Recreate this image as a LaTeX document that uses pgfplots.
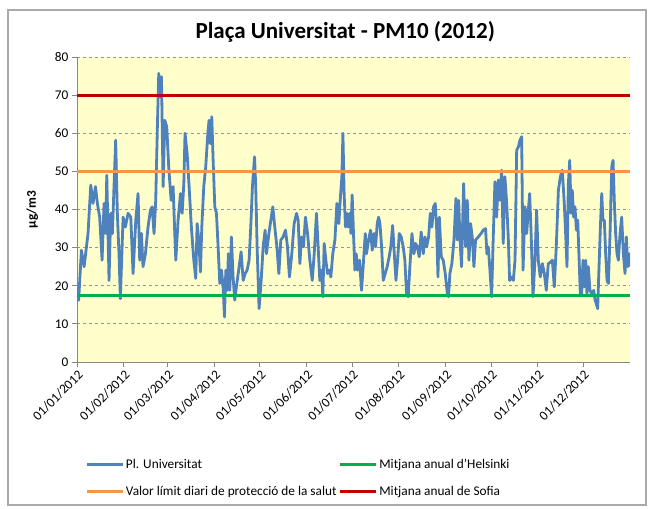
\documentclass[border=0pt]{standalone}
\usepackage{fontspec}
\setmainfont{Carlito}
\usepackage{pgfplots}
\pgfplotsset{compat=1.18}
\definecolor{bgyel}{RGB}{255,255,204}
\definecolor{xblue}{RGB}{79,129,189}
\definecolor{xgreen}{RGB}{0,176,80}
\definecolor{xorange}{RGB}{247,150,70}
\definecolor{xred}{RGB}{192,0,0}
\definecolor{gridgray}{RGB}{150,150,150}
\definecolor{axgray}{RGB}{134,134,134}
\begin{document}
\begin{tikzpicture}
\path[use as bounding box] (0,0) rectangle (654bp,509bp);
\draw[axgray!70, line width=1.2bp] (8bp,4bp) rectangle (646bp,499bp);
\begin{axis}[
  at={(77bp,147bp)}, anchor=south west,
  scale only axis, width=553bp, height=305bp,
  xmin=0, xmax=366, ymin=0, ymax=80,
  axis background/.style={fill=bgyel},
  axis x line*=bottom, axis y line*=left,
  axis line style={axgray, line width=0.8bp, -},
  ytick={0,10,...,80},
  xtick={0,31,60,91,121,152,182,213,244,274,305,335},
  xticklabels={01/01/2012,01/02/2012,01/03/2012,01/04/2012,01/05/2012,01/06/2012,01/07/2012,01/08/2012,01/09/2012,01/10/2012,01/11/2012,01/12/2012},
  xticklabel style={rotate=45, anchor=north east, font=\fontsize{13.3bp}{16bp}\selectfont, inner sep=1.5bp},
  yticklabel style={font=\fontsize{13.3bp}{16bp}\selectfont},
  /pgf/number format/assume math mode=true,
  tick align=outside, major tick length=5bp,
  tick style={axgray, line width=0.8bp},
  ymajorgrids, major grid style={gridgray, dash pattern=on 3bp off 3bp, line width=0.8bp},
  title={Plaça Universitat - PM10 (2012)},
  title style={font=\bfseries\fontsize{23bp}{28bp}\selectfont, at={(axis description cs:0.485,1.062)}, anchor=center},
  ylabel={µg/m3},
  ylabel style={font=\bfseries\fontsize{13.3bp}{16bp}\selectfont, at={(axis description cs:-0.081,0.5)}, anchor=center, rotate=0},
  legend columns=2,
  legend cell align=left,
  legend style={at={(axis description cs:0.009,-0.305)}, anchor=north west, draw=none, fill=none,
    font=\fontsize{13.3bp}{16bp}\selectfont, row sep=12bp, column sep=0bp},
  legend image code/.code={\draw[#1] (0bp,0bp) -- (36bp,0bp);},
]
\addplot[xblue, line width=2.8bp, line join=round] coordinates {
(0,19.7)(1.1,16.2)(2.9,29.3)(4.7,25)(6.2,30)(7.3,33.7)(9.1,46.4)(10.6,41.6)(12.2,46)(13.5,41.6)
(15.0,38)(16.6,26.7)(17.9,41.6)(19.0,33.7)(19.7,49)(21.2,21.4)(22.3,39)(23.4,33.7)(24.5,46)(25.6,58.2)
(26.7,39)(27.8,28.4)(28.7,16.6)(30.5,38)(32.0,35.4)(33.8,39)(35.6,38)(37.1,23.2)(38.9,37.2)(40.4,44.2)
(41.5,26.7)(42.6,33.7)(43.7,25)(45.3,28.4)(47.0,35.4)(48.6,39.8)(49.7,40.7)(51.0,33.7)(52.1,42.4)(53.2,61.7)
(54.1,75.7)(55.0,69.6)(55.9,74.8)(57.0,46)(58.1,63.4)(59.4,61.7)(60.7,51.2)(62.3,42.4)
(63.6,46)(64.7,33.7)(65.4,26.7)(66.9,37.2)(68.5,44.2)(69.6,39)(70.7,46.8)(71.5,60)(72.9,54.7)(74.2,46)
(75.7,35.4)(77.3,26.7)(78.6,21.9)(79.5,36.3)(80.6,32)(81.7,23.6)(82.6,35.4)(83.9,46)(85.2,51.2)(86.6,60)
(87.4,63.4)(88.3,57.3)(89.2,64.3)(90.1,52.9)(91.2,40.7)(92.3,39)(93.4,30.2)(94.5,20.6)(95.6,24.1)(96.7,19.7)
(97.6,11.8)(98.5,24.1)(99.4,18.8)(100.2,28.4)(101.1,18.8)(102.2,32.8)(103.3,22.3)(104.4,16.2)(105.5,19.7)(107.3,25)
(108.6,28.9)(110.0,21.4)(111.3,23.2)(112.6,24.1)(113.9,26.7)(115.0,35.4)(116.1,46)(117.5,53.8)(118.3,46)(119.2,30.2)
(120.5,14)(121.9,21.4)(123.2,30.2)(124.5,34.6)
(125.4,28.4)(127.0,33.7)(128.3,37.2)(129.6,40.7)(130.9,35.4)(132.3,30.2)(133.6,23.2)(134.9,32)(136.4,32.8)(138.0,34.6)
(139.3,30.2)(140.6,22.3)(142.0,27.6)(143.7,36.3)(145.3,39)(146.4,37.2)(147.5,25.8)(148.6,32.8)(149.9,30.2)(151.2,38)
(152.6,33.7)(154.1,26.7)(155.7,21.4)(157.0,28.4)(158.5,39)(159.6,30.2)(160.7,21.4)(161.8,24.1)(162.7,17.1)(163.6,31.1)
(164.7,26.7)(165.8,23.2)(166.9,24.1)(168.0,22.3)(169.3,28.4)(170.7,32)(172.0,41.6)(173.3,36.3)(174.2,42.4)(175.3,48.6)
(176.0,60)(176.8,44.2)(177.7,35.4)(178.6,39)(179.5,35.4)(180.6,39)(181.3,33.7)(182.1,43.8)(183.0,33.7)(183.9,24.1)
(184.8,28.4)(185.7,24.1)(187.0,26.7)(188.3,18.8)
(189.4,25)(190.8,33.7)(191.6,28.4)(193.0,32)(194.3,34.6)(195.4,29.3)(196.5,33.7)(197.6,30.2)(198.7,36.3)(199.6,38)
(200.5,36.3)(201.6,30.2)(202.7,21.4)(204.0,23.2)(205.3,25)(206.6,27.6)(207.7,30.2)(208.9,35.8)(210.0,28.4)(211.1,21.4)
(212.2,26.7)(213.3,33.7)(214.6,32.8)(215.9,30.2)(217.0,26.7)(218.1,17.9)(219.2,17.1)(220.3,25)(221.7,33.7)(223.0,28.4)
(224.1,31.1)(225.2,30.2)(226.5,27.6)(227.8,34.1)(229.2,28.4)(230.3,32.8)(231.4,30.2)(232.7,32.8)(233.8,39)(234.9,35.4)
(236.0,40.7)(237.1,41.6)(238.0,35.4)(238.9,22.3)(239.8,38)(241.1,27.6)(242.4,26.7)(243.7,23.2)(245.1,17.9)(245.9,17.1)
(246.8,23.2)(248.1,25.8)(249.5,32)(250.8,42.9)
(251.7,32)(252.6,42.4)(253.5,32)(254.5,25)(255.9,46.8)(257.2,30.2)(258.3,42.4)(259.4,26.7)(260.5,36.3)(261.6,32.8)
(262.7,25)(263.8,32)(265.6,32.8)(267.4,33.7)(268.9,34.6)(270.4,35)(271.3,28.4)(272.2,30.2)(273.3,24.1)(274.4,17.1)
(275.5,32.8)(276.6,47.3)(277.7,38)(278.8,47.7)(279.9,42.4)(281.0,50.3)(282.1,31.1)(283.2,48.6)(284.4,41.6)(285.5,32)
(286.3,21.4)(287.7,22.3)(288.8,21.4)(289.9,26.7)(291.0,55.6)(292.1,56.4)(293.2,58.2)(294.3,59.1)(295.2,24.1)(296.5,40.7)
(297.6,33.7)(298.7,39.8)(299.6,44.2)(300.7,32)(301.8,17.1)(303.1,26.7)(304.2,39.8)(305.3,26.7)(306.6,22.3)(308.0,25.8)
(309.3,23.2)(310.6,18.8)(311.9,25.8)(313.4,26.2)
(314.6,26.7)(315.9,19.7)(317.2,30.2)(318.6,45)(319.9,48.6)(321.2,50.3)(322.5,41.6)(323.4,33.7)(324.3,25)(325.2,46.8)
(326.1,52.9)(327.0,39)(327.8,45)(328.7,38)(329.6,40.7)(330.5,34.6)(331.4,37.2)(332.2,28.4)(333.1,17.9)(334.0,17.9)
(334.9,26.7)(335.8,19.7)(336.7,26.7)(337.5,17.9)(338.4,25)(339.5,18.8)(340.6,17.9)(342.0,18.8)(342.9,16.2)(343.7,15.3)
(344.6,14)(345.5,25)(346.4,35.4)(347.3,44.2)(348.1,37.2)(349.0,37.2)(349.9,28.4)(350.8,21.4)(351.7,20.6)(352.8,33.7)
(353.9,51.2)(354.8,52.9)(355.6,42.4)(356.5,33.7)(357.4,28.4)(358.3,26.7)(359.4,33.7)(360.5,38)(361.6,28.4)(362.7,23.2)
(363.6,32.8)(364.5,25)(365.4,28.4)(366,25)
};
\addlegendentry{Pl. Universitat}
\addplot[xgreen, line width=2.8bp] coordinates {(0,17.5)(366,17.5)};
\addlegendentry{Mitjana anual d'Helsinki}
\addplot[xorange, line width=2.8bp] coordinates {(0,50)(366,50)};
\addlegendentry{Valor límit diari de protecció de la salut}
\addplot[xred, line width=2.8bp] coordinates {(0,70)(366,70)};
\addlegendentry{Mitjana anual de Sofia}
\end{axis}
\end{tikzpicture}
\end{document}
